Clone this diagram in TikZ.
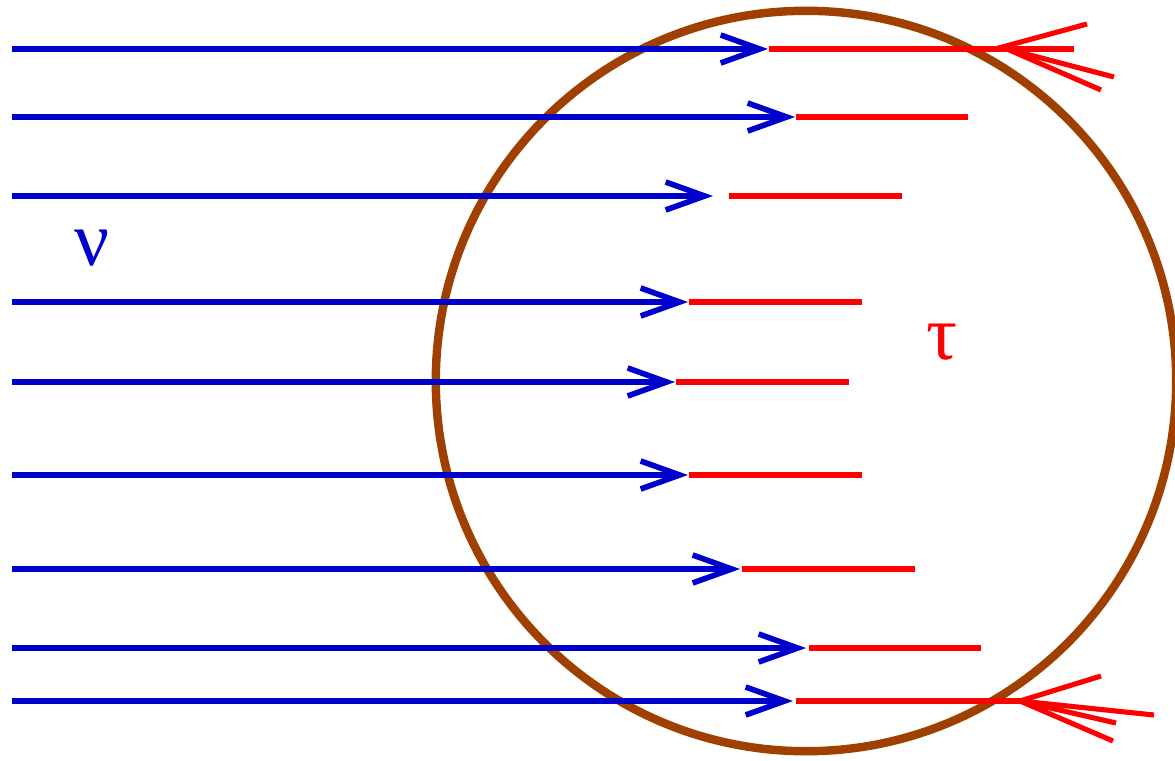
\documentclass[tikz,border=0pt]{standalone}
\usepackage{fontspec}
\setmainfont{Liberation Serif}
\usepackage{xcolor}
\usetikzlibrary{arrows.meta}
\definecolor{nublue}{HTML}{0000CC}
\definecolor{taured}{HTML}{FF0000}
\definecolor{rim}{HTML}{A04000}
\begin{document}
\begin{tikzpicture}[x=0.01cm,y=-0.01cm]
    \tikzset{
      beam/.style={nublue,line width=1.45pt,-{Straight Barb[length=3.9mm,width=2.8mm,line width=1.6pt]}},
      track/.style={taured,line width=1.45pt},
      shell/.style={rim,line width=2.4pt},
      lab/.style={font=\fontsize{22}{26}\selectfont,inner sep=0pt}
    }
    \useasboundingbox (0,0) rectangle (1175,760);
    \draw[shell] (806,381) circle[radius=3.7cm];
    \foreach \i/\y/\t/\s/\e in {1/49/768/769/1074,2/117/795/796/968,3/196/713/729/902,4/302/688/689/862,5/382/675/676/849,6/475/688/689/862,7/569/740/742/915,8/648/806/809/981,9/701/793/796/1020} {
      \coordinate (in-\i) at (12,\y);
      \coordinate (tip-\i) at (\t,\y);
      \coordinate (st-\i) at (\s,\y);
      \coordinate (end-\i) at (\e,\y);
      \draw[beam] (in-\i) -- (tip-\i);
      \draw[track] (st-\i) -- (end-\i);
    }
    % showers leaving the sphere
    \coordinate (top) at (995,49);
    \coordinate (top2) at (1007,49);
    \draw[track] (top) -- (1087,24);
    \foreach \j/\p in {b/{(1114,77)},c/{(1101,90)}} {
      \draw[track] (top2) -- \p;
    }
    \foreach \j/\p in {a/{(1101,676)},b/{(1154,715)},c/{(1116,723)},d/{(1113,741)}} {
      \draw[track] (end-9) -- \p;
    }
    \node[lab,nublue] (nu) at (92,248) {ν};
    \node[lab,taured] (tau) at (942,342) {τ};
\end{tikzpicture}
\end{document}
